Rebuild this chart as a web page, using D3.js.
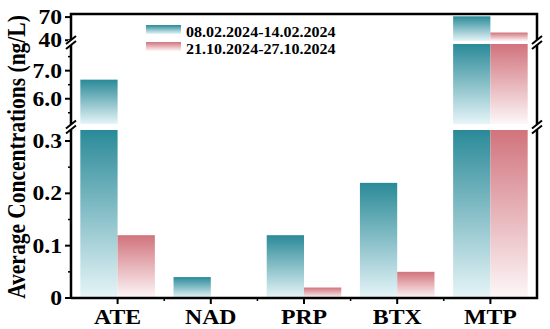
<!DOCTYPE html>
<html>
<head>
<meta charset="utf-8">
<script src="https://cdn.jsdelivr.net/npm/d3@7"></script>
<style>
  body { margin: 0; background: #fff; }
  text { font-family: "Liberation Serif", "Times New Roman", serif; font-weight: bold; fill: #000; }
</style>
</head>
<body>
<script>
// data
var categories = ["ATE", "NAD", "PRP", "BTX", "MTP"];
var seriesNames = ["08.02.2024-14.02.2024", "21.10.2024-27.10.2024"];
var feb = [6.68, 0.04, 0.12, 0.22, 71];
var oct = [0.12, 0, 0.02, 0.05, 50];
var bottomTicks = [0, 0.1, 0.2, 0.3];
var middleTicks = [6.0, 7.0];
var topTicks = [40, 70];

var width = 550, height = 329;
var plotLeft = 71, plotRight = 537, plotTop = 14, plotBottom = 298;
var stretch = 1.18;

var svg = d3.select("body").append("svg")
    .attr("width", width)
    .attr("height", height);

// gradients, dark at top fading down
var defs = svg.append("defs");
var gradColors = [["#2a8a98", "#e6f5f8"], ["#d1737c", "#fdf7f8"]];
gradColors.forEach(function(c, i){
    var g = defs.append("linearGradient")
        .attr("id", "grad" + i)
        .attr("x1", 0).attr("y1", 0).attr("x2", 0).attr("y2", 1);
    g.append("stop").attr("offset", "0%").attr("stop-color", c[0]);
    g.append("stop").attr("offset", "100%").attr("stop-color", c[1]);
});

// three stacked y segments (broken axis)
var segments = [
    { y: d3.scaleLinear().domain([0, 0.321]).range([plotBottom, 130]), ticks: bottomTicks, minor: [0.05, 0.15, 0.25],
      fmt: function(d){ return d == 0 ? "0" : d3.format(".1f")(d); } },
    { y: d3.scaleLinear().domain([5.1, 7.95]).range([124, 44]), ticks: middleTicks, minor: [5.5, 6.5, 7.5],
      fmt: d3.format(".1f") },
    { y: d3.scaleLinear().domain([39, 74]).range([41, plotTop]), ticks: topTicks, minor: [],
      fmt: d3.format("d") }
];
var breaks = [127, 42.5];

var x0 = d3.scaleBand().domain(categories).range([plotLeft, plotRight]).paddingInner(0.2).paddingOuter(0.1);
var x1 = d3.scaleBand().domain([0, 1]).range([0, x0.bandwidth()]);

var rows = categories.map(function(c, i){ return { cat: c, vals: [feb[i], oct[i]] }; });

// bars, one piece per segment
segments.forEach(function(seg){
    var lo = seg.y.domain()[0], hi = seg.y.domain()[1];
    rows.forEach(function(r){
        r.vals.forEach(function(v, s){
            if (v <= lo) return;
            var yTop = seg.y(Math.min(v, hi));
            svg.append("rect")
                .attr("x", x0(r.cat) + x1(s))
                .attr("width", x1.bandwidth())
                .attr("y", yTop)
                .attr("height", seg.y(lo) - yTop)
                .attr("fill", "url(#grad" + s + ")");
        });
    });
});

// frame
svg.append("path")
    .attr("d", "M" + plotLeft + "," + plotBottom + "V" + plotTop + "H" + plotRight + "V" + plotBottom + "H" + plotLeft)
    .attr("fill", "none")
    .attr("stroke", "#000")
    .attr("stroke-width", 2.5);

// y ticks and labels
segments.forEach(function(seg){
    seg.ticks.forEach(function(t){
        var yy = seg.y(t);
        svg.append("line").attr("x1", plotLeft - 6).attr("x2", plotLeft).attr("y1", yy).attr("y2", yy)
            .attr("stroke", "#000").attr("stroke-width", 2);
        svg.append("text")
            .attr("transform", "translate(" + (plotLeft - 9) + "," + (yy + 7) + ") scale(" + stretch + ",1)")
            .attr("text-anchor", "end")
            .attr("font-size", 20)
            .text(seg.fmt(t));
    });
    seg.minor.forEach(function(t){
        var yy = seg.y(t);
        svg.append("line").attr("x1", plotLeft - 3).attr("x2", plotLeft).attr("y1", yy).attr("y2", yy)
            .attr("stroke", "#000").attr("stroke-width", 1.5);
    });
});

// break marks on both sides
breaks.forEach(function(b){
    [plotLeft, plotRight].forEach(function(ax){
        svg.append("rect").attr("x", ax - 3).attr("y", b - 2.5).attr("width", 6).attr("height", 5).attr("fill", "#fff");
        [-2.5, 2.5].forEach(function(off){
            svg.append("line")
                .attr("x1", ax - 5).attr("y1", b + off + 4)
                .attr("x2", ax + 5).attr("y2", b + off - 4)
                .attr("stroke", "#000").attr("stroke-width", 2);
        });
    });
});

// x ticks and labels
categories.forEach(function(c, i){
    var cx = x0(c) + x0.bandwidth() / 2;
    svg.append("line").attr("x1", cx).attr("x2", cx).attr("y1", plotBottom).attr("y2", plotBottom + 6)
        .attr("stroke", "#000").attr("stroke-width", 2);
    if (i > 0) {
        var bx = plotLeft + x0.step() * i;
        svg.append("line").attr("x1", bx).attr("x2", bx).attr("y1", plotBottom).attr("y2", plotBottom + 3)
            .attr("stroke", "#000").attr("stroke-width", 1.5);
    }
    svg.append("text")
        .attr("transform", "translate(" + cx + ",324) scale(1.08,1)")
        .attr("text-anchor", "middle")
        .attr("font-size", 22)
        .text(c);
});

// y title
svg.append("text")
    .attr("transform", "translate(25,157) rotate(-90) scale(1," + stretch + ")")
    .attr("text-anchor", "middle")
    .attr("font-size", 21.5)
    .text("Average Concentrations (ng/L)");

// legend
seriesNames.forEach(function(name, i){
    var ly = 25 + i * 17;
    svg.append("rect")
        .attr("x", 146).attr("y", ly)
        .attr("width", 35).attr("height", 9)
        .attr("fill", "url(#grad" + i + ")");
    svg.append("text")
        .attr("transform", "translate(186," + (ly + 12) + ") scale(" + stretch + ",1)")
        .attr("font-size", 13.6)
        .text(name);
});
</script>
</body>
</html>
